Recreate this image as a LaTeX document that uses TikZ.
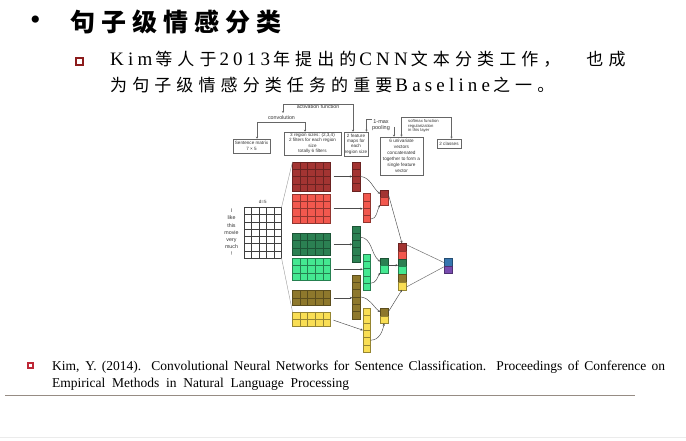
\documentclass[tikz,border=0pt]{standalone}
\usepackage{fontspec}
\setmainfont{Liberation Serif}
\newfontfamily\cjktitle[LetterSpace=24]{Noto Sans CJK SC}
\newfontfamily\cjkbody[LetterSpace=30]{Noto Sans CJK SC}
\newfontfamily\latbody[LetterSpace=22]{Liberation Serif}
\newfontfamily\figsans{Liberation Sans}
\usetikzlibrary{arrows.meta,calc}

\definecolor{cDkRed}{RGB}{163,52,50}
\definecolor{cRed}{RGB}{242,88,78}
\definecolor{cDkGreen}{RGB}{43,128,82}
\definecolor{cLtGreen}{RGB}{68,232,145}
\definecolor{cOlive}{RGB}{142,120,44}
\definecolor{cYellow}{RGB}{249,222,84}
\definecolor{cBlue}{RGB}{55,118,175}
\definecolor{cPurple}{RGB}{120,75,175}
\definecolor{cBullet}{RGB}{140,28,28}
\definecolor{cCiteBullet}{RGB}{190,40,55}
\definecolor{cRule}{RGB}{150,140,132}

% Latin words inside the Chinese body lines
\newcommand\lat[1]{\hspace{3pt}{\fontsize{19}{19}\selectfont\latbody #1}\hspace{3pt}}

% a block of cells: name, x, y, columns, rows, cell width, cell height, fill, line colour
\newcommand\cellblock[9]{%
  \node[blk=#9, fill=#8, minimum width={#4*#6pt}, minimum height={#5*#7pt}, anchor=north west] (#1) at (#2,#3) {};
  \ifnum#4>1
    \foreach \k in {2,...,#4}
      \draw[draw=#9, line width=0.45pt] ($(#1.north west)+({(\k-1)*#6},0)$) -- ($(#1.south west)+({(\k-1)*#6},0)$);
  \fi
  \ifnum#5>1
    \foreach \k in {2,...,#5}
      \draw[draw=#9, line width=0.45pt] ($(#1.north west)+(0,{(\k-1)*#7})$) -- ($(#1.north east)+(0,{(\k-1)*#7})$);
  \fi
}

\begin{document}
\begin{tikzpicture}[x=1pt,y=-1pt,
  lbox/.style={draw=black!60, line width=0.5pt, inner sep=0pt, align=center, text=black!80,
    font=\figsans\fontsize{4.6}{5.4}\selectfont},
  note/.style={inner sep=0pt, text=black!80, font=\figsans\fontsize{5.3}{6.2}\selectfont, align=center},
  brk/.style={draw=black!60, line width=0.5pt, {Stealth[length=2pt,width=2pt]}-{Stealth[length=2pt,width=2pt]}},
  brkstart/.style={draw=black!60, line width=0.5pt, {Stealth[length=2pt,width=2pt]}-},
  brkend/.style={draw=black!60, line width=0.5pt, -{Stealth[length=2pt,width=2pt]}},
  conn/.style={draw=black!70, line width=0.45pt, -{Stealth[length=2.4pt,width=2.2pt]}},
  link/.style={draw=black!55, line width=0.5pt},
  guide/.style={draw=black!40, line width=0.4pt},
  blk/.style={draw=#1, inner sep=0pt, outer sep=0pt, line width=0.45pt},
]
\useasboundingbox (0,0) rectangle (686,441);
\fill[white] (0,0) rectangle (686,441);

% ---------- heading and body text ----------
\node[inner sep=0pt, font=\fontsize{30}{30}\selectfont] (dot) at (35.5,22.5) {•};
\node[anchor=base west, inner sep=0pt] (title) at (70,31.5)
  {\fontsize{25}{25}\selectfont\cjktitle\bfseries 句子级情感分类};

\node[draw=cBullet, line width=2pt, minimum size=7pt, inner sep=0pt] (sq) at (79.5,62) {};
\node[anchor=base west, inner sep=0pt] (line2) at (107,66)
  {\fontsize{17}{17}\selectfont\lat{Kim}\cjkbody 等人于\lat{2013}\cjkbody 年提出的\lat{CNN}\cjkbody 文本分类工作，\hspace{26pt}也成};
\node[anchor=base west, inner sep=0pt] (line3) at (110,91.5)
  {\fontsize{17}{17}\selectfont\cjkbody 为句子级情感分类任务的重要\lat{Baseline}\cjkbody 之一。};

% ---------- reference ----------
\node[draw=cCiteBullet, line width=1.5pt, minimum size=5pt, inner sep=0pt] (citesq) at (30.5,365.5) {};
\node[anchor=base west, inner sep=0pt, font=\fontsize{13.5}{15}\selectfont] (cite1) at (52,370)
  {\makebox[613pt][s]{Kim, Y. (2014). Convolutional Neural Networks for Sentence Classification. Proceedings of Conference on}};
\node[anchor=base west, inner sep=0pt, font=\fontsize{13.5}{15}\selectfont] (cite2) at (52,387)
  {\makebox[297pt][s]{Empirical Methods in Natural Language Processing}};
\draw[draw=cRule, line width=0.9pt] (5,395) -- (635,395);
\draw[draw=black!8, line width=1.2pt] (0,437.5) -- (686,437.5);

% ---------- annotation boxes ----------
\node[lbox, minimum width=37pt, minimum height=14pt] (smat) at (251.5,146) {Sentence matrix\\7 × 5};
\node[lbox, minimum width=57pt, minimum height=23pt] (reg) at (312.5,143.5)
  {3 region sizes: (2,3,4)\\2 filters for each region\\size\\totally 6 filters};
\node[lbox, minimum width=24pt, minimum height=24pt] (feat) at (356,144)
  {2 feature\\maps for\\each\\region size};
\node[lbox, minimum width=43pt, minimum height=38pt, font=\figsans\fontsize{4.7}{6}\selectfont] (univ) at (401.5,156)
  {6 univariate\\vectors\\concatenated\\together to form a\\single feature\\vector};
\node[lbox, minimum width=24pt, minimum height=9pt] (cls) at (449,143.5) {2 classes};

% ---------- annotation labels and brackets ----------
\node[note] (actlbl) at (318,106.5) {activation function};
\node[note] (convlbl) at (281.5,118) {convolution};
\node[note, font=\figsans\fontsize{5.5}{6.3}\selectfont] (mplbl) at (381,125.5) {1-max\\pooling};
\node[note, anchor=north west, align=left, font=\figsans\fontsize{4.2}{4.5}\selectfont] (smlbl) at (408,119.5)
  {softmax function\\regularization\\in this layer};

\coordinate (cvL) at (257,122);
\coordinate (cvR) at (305,122);
\draw[brk] (cvL |- smat.north) -- (cvL) -- (cvR) -- (cvR |- reg.north);

\coordinate (actL) at (283,113);
\coordinate (actR) at (353,104);
\draw[brk] (actL) |- (actR) -- (actR |- feat.north);

\coordinate (mpL) at (366.5,119);
\coordinate (mpR) at (394,127);
\draw[brkstart] (mpL |- feat.north) -- (mpL) -- (mpL -| mplbl.west);
\draw[brkend] (mpR) -- (mpR |- univ.north);

\coordinate (smL) at (401.5,117);
\coordinate (smR) at (451.5,117);
\draw[brk] (smL |- univ.north) -- (smL) -- (smR) -- (smR |- cls.north);

% ---------- sentence matrix ----------
\node[inner sep=0pt, align=center, text=black!80, font=\figsans\fontsize{5.3}{7.2}\selectfont] (words) at (231.5,232.5)
  {I\\like\\this\\movie\\very\\much\\!};
\node[inner sep=0pt, text=black!80, font=\figsans\fontsize{4.5}{5}\selectfont] (dlbl) at (262.7,201.5) {d=5};
\cellblock{sgrid}{244}{207.5}{5}{7}{7.5}{7.214}{white}{black!75}

% ---------- filters ----------
\cellblock{f1}{292.5}{161.8}{5}{4}{7.6}{7.35}{cDkRed}{cDkRed!65!black}
\cellblock{f2}{292.5}{194.0}{5}{4}{7.6}{7.35}{cRed}{cRed!60!black}
\cellblock{f3}{292.5}{233.3}{5}{3}{7.6}{7.35}{cDkGreen}{cDkGreen!65!black}
\cellblock{f4}{292.5}{258.3}{5}{3}{7.6}{7.35}{cLtGreen}{cLtGreen!55!black}
\cellblock{f5}{292.5}{290.5}{5}{2}{7.6}{7.35}{cOlive}{cOlive!65!black}
\cellblock{f6}{292.5}{311.8}{5}{2}{7.6}{7.35}{cYellow}{cYellow!60!black}

\draw[guide] (sgrid.north east) -- (f1.north west);
\draw[guide] (sgrid.south east) -- (f6.north west);

% ---------- feature maps ----------
\cellblock{c1}{352.3}{161.8}{1}{4}{7.8}{7.3}{cDkRed}{cDkRed!65!black}
\cellblock{c2}{362.8}{193.5}{1}{4}{7.8}{7.3}{cRed}{cRed!60!black}
\cellblock{c3}{352.3}{225.8}{1}{5}{7.8}{7.3}{cDkGreen}{cDkGreen!65!black}
\cellblock{c4}{362.8}{254.0}{1}{5}{7.8}{7.3}{cLtGreen}{cLtGreen!55!black}
\cellblock{c5}{352.3}{275.0}{1}{6}{7.8}{7.3}{cOlive}{cOlive!65!black}
\cellblock{c6}{362.8}{308.3}{1}{6}{7.8}{7.3}{cYellow}{cYellow!60!black}

\draw[conn, shorten <=3pt] (f1.east) -- (f1.east -| c1.west);
\draw[conn, shorten <=3pt] (f2.east) -- (f2.east -| c2.west);
\draw[conn, shorten <=3pt] (f3.east) -- (f3.east -| c3.west);
\draw[conn, shorten <=3pt] (f4.east) -- (f4.east -| c4.west);
\draw[conn, shorten <=3pt] (f5.east) -- (f5.east -| c5.west);
\draw[conn, shorten <=3pt] (f6.east) -- (c6.west);

% ---------- pooled values ----------
\cellblock{p1a}{380}{190.0}{1}{1}{8.2}{7.5}{cDkRed}{cDkRed!65!black}
\cellblock{p1b}{380}{197.5}{1}{1}{8.2}{7.5}{cRed}{cRed!60!black}
\cellblock{p2a}{380}{257.8}{1}{1}{8.2}{7.5}{cDkGreen}{cDkGreen!65!black}
\cellblock{p2b}{380}{265.3}{1}{1}{8.2}{7.5}{cLtGreen}{cLtGreen!55!black}
\cellblock{p3a}{380}{308.3}{1}{1}{8.2}{7.5}{cOlive}{cOlive!65!black}
\cellblock{p3b}{380}{315.8}{1}{1}{8.2}{7.5}{cYellow}{cYellow!60!black}

\draw[conn] (c1.east) to[out=-5,in=140] (p1a.west);
\draw[conn] ($(c2.east)+(0,11)$) to[out=0,in=-120] (p1b.south west);
\draw[conn] ($(c3.east)+(0,-7)$) to[out=-5,in=140] (p2a.west);
\draw[conn] ($(c4.east)+(0,11)$) to[out=0,in=-120] (p2b.south west);
\draw[conn] (c5.east) to[out=-5,in=140] (p3a.west);
\draw[conn] ($(c6.east)+(0,10)$) to[out=0,in=-100] (p3b.south);

% ---------- concatenated vector ----------
\cellblock{cc1}{398}{243.30}{1}{1}{8}{7.75}{cDkRed}{cDkRed!65!black}
\cellblock{cc2}{398}{251.05}{1}{1}{8}{7.75}{cRed}{cRed!60!black}
\cellblock{cc3}{398}{258.80}{1}{1}{8}{7.75}{cDkGreen}{cDkGreen!65!black}
\cellblock{cc4}{398}{266.55}{1}{1}{8}{7.75}{cLtGreen}{cLtGreen!55!black}
\cellblock{cc5}{398}{274.30}{1}{1}{8}{7.75}{cOlive}{cOlive!65!black}
\cellblock{cc6}{398}{282.05}{1}{1}{8}{7.75}{cYellow}{cYellow!60!black}

\draw[conn] (p1a.east) -- (cc1.north);
\draw[conn] (p2a.south east) -- (p2a.south east -| cc3.west);
\draw[conn] (p3a.east) -- (cc6.south);

% ---------- output ----------
\cellblock{o1}{444}{258.3}{1}{1}{8}{7.5}{cBlue}{cBlue!65!black}
\cellblock{o2}{444}{265.8}{1}{1}{8}{7.5}{cPurple}{cPurple!65!black}

\draw[link] ($(cc1.north east)+(0.5,1.5)$) -- ($(o1.west)+(0,0.5)$);
\draw[link] ($(cc6.east)+(0.5,1)$) -- ($(o2.north west)+(0,1)$);
\end{tikzpicture}
\end{document}
